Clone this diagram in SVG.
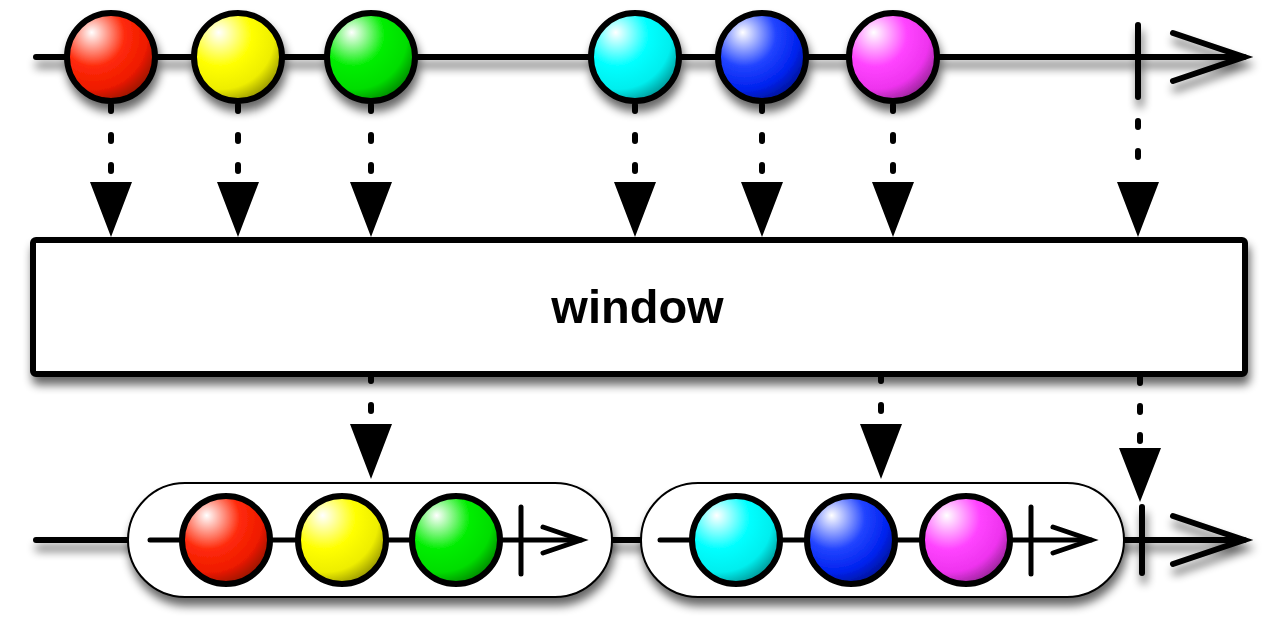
<svg xmlns="http://www.w3.org/2000/svg" width="1280" height="630" viewBox="0 0 1280 630">
<style>
.ln{stroke:#000;stroke-width:6;fill:none;stroke-linecap:round;stroke-linejoin:miter}
.iln{stroke:#000;stroke-width:5;fill:none;stroke-linecap:round}
.mb{stroke:#000;stroke-width:6}
.dot{stroke:#000;stroke-width:6;fill:none;stroke-linecap:round;stroke-dasharray:6 24}
.tri{fill:#000}
.pill{fill:#fff;stroke:#000;stroke-width:2}
.box{fill:#fff;stroke:#000;stroke-width:6}
.lbl{font-family:"Liberation Sans",Arial,sans-serif;font-weight:bold;font-size:47px;fill:#000}
</style>
<defs>
<filter id="sh" x="-10%" y="-20%" width="130%" height="160%">
<feGaussianBlur in="SourceAlpha" stdDeviation="5"/>
<feOffset dx="2" dy="8" result="b"/>
<feComponentTransfer><feFuncA type="linear" slope="0.6"/></feComponentTransfer>
<feMerge><feMergeNode/><feMergeNode in="SourceGraphic"/></feMerge>
</filter>
<radialGradient id="gR" cx="0.32" cy="0.28" r="0.8" fx="0.28" fy="0.22"><stop offset="0" stop-color="#fff"/><stop offset="0.45" stop-color="#ff2a0a"/><stop offset="0.75" stop-color="#ee1a00"/><stop offset="1" stop-color="#881000"/></radialGradient>
<radialGradient id="gY" cx="0.32" cy="0.28" r="0.8" fx="0.28" fy="0.22"><stop offset="0" stop-color="#fff"/><stop offset="0.45" stop-color="#ffff00"/><stop offset="0.75" stop-color="#eeee00"/><stop offset="1" stop-color="#888800"/></radialGradient>
<radialGradient id="gG" cx="0.32" cy="0.28" r="0.8" fx="0.28" fy="0.22"><stop offset="0" stop-color="#fff"/><stop offset="0.45" stop-color="#00ee00"/><stop offset="0.75" stop-color="#00dd00"/><stop offset="1" stop-color="#007a00"/></radialGradient>
<radialGradient id="gC" cx="0.32" cy="0.28" r="0.8" fx="0.28" fy="0.22"><stop offset="0" stop-color="#fff"/><stop offset="0.45" stop-color="#00ffff"/><stop offset="0.75" stop-color="#00eeee"/><stop offset="1" stop-color="#008888"/></radialGradient>
<radialGradient id="gB" cx="0.32" cy="0.28" r="0.8" fx="0.28" fy="0.22"><stop offset="0" stop-color="#fff"/><stop offset="0.45" stop-color="#2244ff"/><stop offset="0.75" stop-color="#0022ee"/><stop offset="1" stop-color="#001188"/></radialGradient>
<radialGradient id="gM" cx="0.32" cy="0.28" r="0.8" fx="0.28" fy="0.22"><stop offset="0" stop-color="#fff"/><stop offset="0.45" stop-color="#ff44ff"/><stop offset="0.75" stop-color="#ee33ee"/><stop offset="1" stop-color="#882288"/></radialGradient>
</defs>
<rect width="1280" height="630" fill="#fff"/>

<g id="connectors">
<path class="dot" d="M111 105V180M238 105V180M371 105V180M635 105V180M762 105V180M893 105V180"/>
<path class="dot" d="M1138 121V170"/>
<path class="tri" d="M90 182H132L111 237ZM217 182H259L238 237ZM350 182H392L371 237ZM614 182H656L635 237ZM741 182H783L762 237ZM872 182H914L893 237ZM1117 182H1159L1138 237Z"/>
<path class="dot" d="M371 375V420M881 375V420"/>
<path class="dot" d="M1140 377V445" style="stroke-dasharray:6 23"/>
<path class="tri" d="M350 424H392L371 479ZM860 424H902L881 479ZM1119 448H1161L1140 502Z"/>
</g>

<g id="source" filter="url(#sh)">
<path class="ln" d="M36 57H1244"/>
<path class="ln" d="M1173 33L1244 57L1173 81"/>
<path class="ln" d="M1138 25V97"/>
<circle class="mb" cx="111" cy="57" r="44" fill="url(#gR)"/>
<circle class="mb" cx="238" cy="57" r="44" fill="url(#gY)"/>
<circle class="mb" cx="371" cy="57" r="44" fill="url(#gG)"/>
<circle class="mb" cx="635" cy="57" r="44" fill="url(#gC)"/>
<circle class="mb" cx="762" cy="57" r="44" fill="url(#gB)"/>
<circle class="mb" cx="893" cy="57" r="44" fill="url(#gM)"/>
</g>

<g id="operator" filter="url(#sh)">
<rect class="box" x="33" y="240" width="1212" height="134" rx="3"/>
<text class="lbl" x="637.5" y="323" text-anchor="middle">window</text>
</g>

<g id="result" filter="url(#sh)">
<path class="ln" d="M36 540H1244"/>
<path class="ln" d="M1173 516L1244 540L1173 564"/>
<path class="ln" d="M1142 507V573"/>
</g>

<g id="window1" filter="url(#sh)">
<rect class="pill" x="128" y="483" width="484" height="114" rx="57"/>
<path class="iln" d="M150 540H581"/>
<path class="iln" d="M543 527L581 540L543 553"/>
<path class="iln" d="M521 507V574"/>
<circle class="mb" cx="226" cy="540" r="44" fill="url(#gR)"/>
<circle class="mb" cx="342" cy="540" r="44" fill="url(#gY)"/>
<circle class="mb" cx="456" cy="540" r="44" fill="url(#gG)"/>
</g>

<g id="window2" filter="url(#sh)">
<rect class="pill" x="641" y="483" width="483" height="114" rx="57"/>
<path class="iln" d="M660 540H1091"/>
<path class="iln" d="M1053 527L1091 540L1053 553"/>
<path class="iln" d="M1031 507V574"/>
<circle class="mb" cx="736" cy="540" r="44" fill="url(#gC)"/>
<circle class="mb" cx="851" cy="540" r="44" fill="url(#gB)"/>
<circle class="mb" cx="966" cy="540" r="44" fill="url(#gM)"/>
</g>
</svg>
